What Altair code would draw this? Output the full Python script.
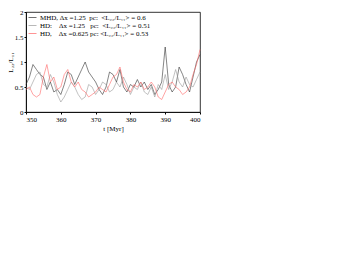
import altair as alt
import pandas as pd

t = list(range(350, 401))

mhd_125 = [0.55, 0.7, 0.95, 0.85, 0.75, 0.7, 0.45, 0.6, 0.4, 0.45,
           0.35, 0.55, 0.8, 0.75, 0.55, 0.7, 0.85, 1.0, 0.8, 0.7,
           0.6, 0.45, 0.35, 0.5, 0.8, 0.75, 0.6, 0.85, 0.5, 0.4,
           0.55, 0.5, 0.65, 0.5, 0.6, 0.45, 0.55, 0.35, 0.45, 0.6,
           1.3, 0.55, 0.4, 0.5, 0.9, 0.75, 0.55, 0.4, 0.7, 1.0, 1.15]

hd_125 = [0.5, 0.45, 0.6, 0.75, 0.8, 0.55, 0.5, 0.75, 0.6, 0.35,
          0.2, 0.3, 0.45, 0.6, 0.5, 0.35, 0.25, 0.3, 0.55, 0.5,
          0.35, 0.45, 0.6, 0.55, 0.4, 0.45, 0.6, 0.5, 0.7, 0.55,
          0.35, 0.5, 0.45, 0.6, 0.4, 0.35, 0.5, 0.3, 0.55, 0.45,
          0.75, 0.45, 0.6, 0.85, 0.6, 0.5, 0.7, 0.55, 0.5, 0.65, 0.8]

hd_0625 = [0.45, 0.5, 0.35, 0.3, 0.35, 0.7, 0.95, 0.6, 0.7, 0.45,
           0.5, 0.75, 0.85, 0.6, 0.5, 0.6, 0.45, 0.4, 0.3, 0.35,
           0.4, 0.5, 0.45, 0.4, 0.55, 0.7, 0.75, 0.9, 0.6, 0.45,
           0.4, 0.55, 0.5, 0.6, 0.45, 0.5, 0.6, 0.5, 0.3, 0.25,
           0.4, 0.55, 0.6, 0.5, 0.45, 0.35, 0.4, 0.5, 0.75, 0.95, 1.25]

S = "\u00a0"
labels = [
    f"MHD,{S}\u0394x{S}=1.25{S}{S}pc:{S}{S}<L\u2082\u2082/L\u2081\u2081>{S}={S}0.6",
    f"HD:{S}{S}{S}{S}\u0394x{S}=1.25{S}{S}{S}pc:{S}{S}<L\u2082\u2082/L\u2081\u2081>{S}={S}0.51",
    f"HD,{S}{S}{S}{S}\u0394x{S}=0.625{S}pc:{S}<L\u2082\u2082/L\u2081\u2081>{S}={S}0.53",
]
colors = ["#333333", "#999999", "#ff6666"]
series = [mhd_125, hd_125, hd_0625]

rows = []
for lab, vals in zip(labels, series):
    for ti, v in zip(t, vals):
        rows.append({"t": ti, "v": v, "s": lab})
df = pd.DataFrame(rows)

font = "Liberation Serif"

chart = alt.Chart(df).mark_line(strokeWidth=0.6).encode(
    x=alt.X("t:Q", scale=alt.Scale(domain=[350, 400], nice=False),
            axis=alt.Axis(values=[350, 360, 370, 380, 390, 400], title="t [Myr]",
                          grid=False, tickSize=2, labelPadding=1, titlePadding=2)),
    y=alt.Y("v:Q", scale=alt.Scale(domain=[0, 2], nice=False),
            axis=alt.Axis(values=[0, 0.5, 1, 1.5, 2], format="~g", title="L\u2082\u2082/L\u2081\u2081",
                          grid=False, tickSize=2, labelPadding=1, titleX=-13, titleY=50)),
    color=alt.Color("s:N", sort=labels,
                    scale=alt.Scale(domain=labels, range=colors),
                    legend=alt.Legend(title=None, orient="none", legendX=2, legendY=1,
                                      symbolType="stroke", symbolSize=64,
                                      symbolStrokeWidth=0.7, labelFont=font,
                                      labelFontSize=7, labelLimit=400, rowPadding=0,
                                      labelOffset=3)),
).properties(
    width=174, height=100,
    autosize=alt.AutoSizeParams(type="none"),
    padding={"left": 18, "top": 4, "right": 5, "bottom": 30},
).configure_view(
    stroke="black", strokeWidth=0.8
).configure_axis(
    labelFont=font, titleFont=font, labelFontSize=7, titleFontSize=7,
    titleFontWeight="normal", domainColor="black", tickColor="black",
    labelColor="black", titleColor="black", domainWidth=0.8
)

chart.save("out.html", embed_options={"renderer": "svg", "actions": False})
